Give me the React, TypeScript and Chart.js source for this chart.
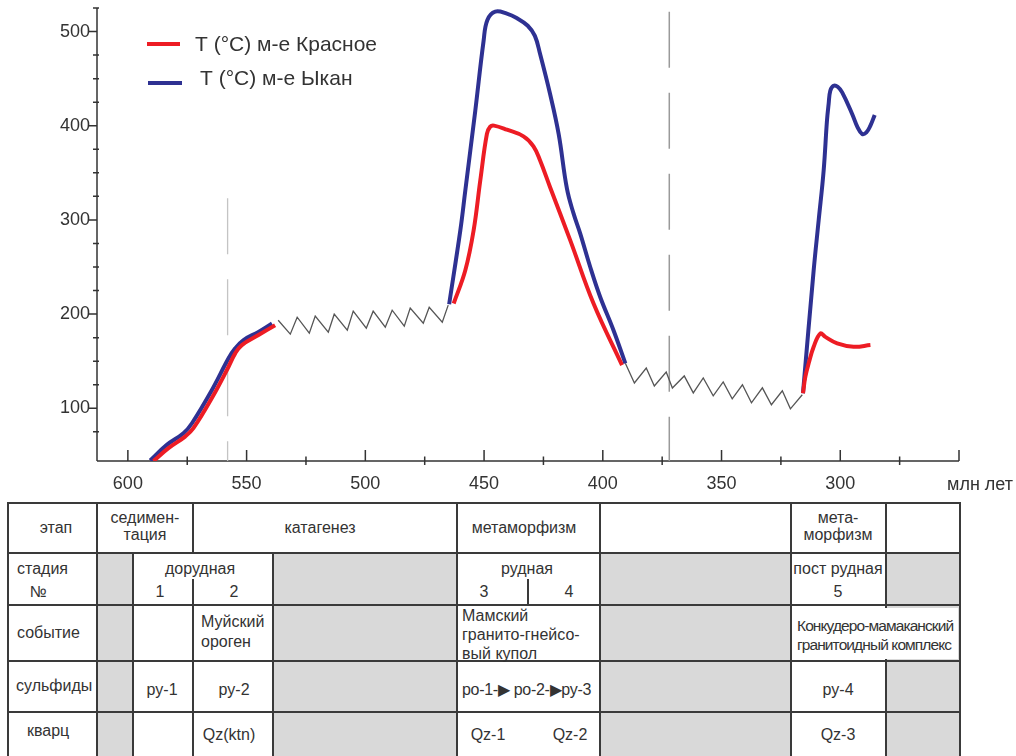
import React, { useEffect, useRef } from 'react';
import { Chart, registerables } from 'chart.js';

Chart.register(...registerables);

const FONT = '"Liberation Sans", Arial, Helvetica, sans-serif';
const INK = '#333333';
const RED = '#ed1c24';
const BLUE = '#2e3192';
const ZIG = '#555555';

const seriesLabels = ['T (°C) м-е Красное', 'T (°C) м-е Ыкан'];
const xAxisUnit = 'млн лет';

// [age, Ma ; T, °C]
const krasnoe1: number[][] = [
  [589.2, 44], [582.9, 57.6], [575.9, 69.9], [572.4, 78.8], [563.9, 114.1],
  [557.6, 144.1], [554.8, 158.3], [552.0, 167.1], [545.0, 177.7], [538.0, 188.2],
];
const ykan1: number[][] = [
  [590.6, 44.5], [583.6, 61.1], [576.6, 73.5], [573.0, 84.1], [564.6, 119.4],
  [557.6, 153.0], [554.8, 163.6], [551.3, 172.4], [545.0, 181.1], [539.3, 190.0],
];
const katagenZigzag: number[][] = [
  [536.7, 193.5], [531.6, 178.7], [528.7, 196.7], [523.6, 179.8], [521.1, 197.8],
  [515.6, 180.8], [513.1, 199.9], [507.6, 182.9], [505.1, 203.1], [499.6, 185.0],
  [496.7, 203.1], [491.6, 186.1], [488.7, 204.1], [483.6, 187.2], [481.1, 206.3],
  [475.6, 190.3], [473.1, 207.3], [467.6, 191.4], [465.1, 209.5],
];
const krasnoe2: number[][] = [
  [462.8, 211.2], [457.9, 246.5], [454.4, 288.9], [451.6, 341.9], [448.8, 391.3],
  [447.4, 399.0], [445.8, 400.1], [440.4, 395.8], [433.4, 388.7], [429.2, 378.1],
  [426.4, 363.0], [422.2, 334.7], [413.7, 278.3], [403.9, 211.2], [391.9, 145.8],
];
const ykan2: number[][] = [
  [464.7, 210.5], [460.0, 288.9], [457.9, 331.3], [453.7, 416.0], [450.2, 490.1],
  [448.6, 512.3], [445.3, 521.2], [440.4, 519.0], [436.1, 514.1], [431.6, 506.2],
  [428.6, 495.4], [426.4, 476.1], [422.2, 433.7], [418.6, 391.3], [415.1, 333.1],
  [412.3, 306.6], [409.5, 285.4], [405.3, 250.0], [401.1, 218.2], [395.5, 182.9],
  [390.5, 147.7],
];
const metaZigzag: number[][] = [
  [390.5, 147.7], [386.7, 126.8], [381.7, 142.7], [378.3, 123.6], [373.3, 138.5],
  [370.7, 121.5], [365.7, 134.3], [361.9, 116.3], [357.7, 132.2], [353.5, 113.2],
  [349.3, 128.0], [345.5, 110.0], [341.2, 124.9], [337.4, 105.8], [332.8, 121.7],
  [329.0, 103.7], [324.4, 118.5], [321.0, 99.4], [316.0, 114.3],
];
const krasnoe3: number[][] = [
  [315.7, 115.9], [314.7, 133.5], [313.3, 147.7], [311.2, 165.3], [308.4, 179.4],
  [306.3, 175.8], [301.3, 168.9], [294.4, 165.3], [287.3, 167.1],
];
const ykan3: number[][] = [
  [315.7, 115.9], [311.2, 246.5], [309.1, 299.5], [307.0, 352.4], [305.6, 405.4],
  [304.9, 423.1], [304.2, 437.2], [302.8, 442.5], [301.1, 441.4], [299.2, 435.4],
  [295.0, 412.5], [292.7, 398.3], [290.8, 391.3], [289.0, 393.0], [287.3, 400.1],
  [285.5, 411.4],
];
// dashed boundaries: [age, T] top to bottom
const boundary1: number[][] = [[558, 323], [558, 44]];
const boundary2: number[][] = [[372, 521], [372, 44]];

const xMajorTicks = [600, 550, 500, 450, 400, 350, 300, 250];
const xMinorTicks = [575, 525, 475, 425, 375, 325, 275];
const yMajorTicks = [100, 200, 300, 400, 500];
const yMinorTicks = [75, 125, 150, 175, 225, 250, 275, 325, 350, 375, 425, 450, 475, 525];

// table content
const rowLabels = ['этап', 'стадия', 'событие', 'сульфиды', 'кварц'];
const etapNames = ['седимен-', 'тация', 'катагенез', 'метаморфизм', 'мета-', 'морфизм'];
const stageNames = ['дорудная', 'рудная', 'пост рудная'];
const stageNumbers = ['1', '2', '3', '4', '5'];
const eventNames = ['Муйский', 'ороген', 'Мамский', 'гранито-гнейсо-', 'вый купол', 'Конкудеро-мамаканский', 'гранитоидный комплекс'];
const sulfideNames = ['py-1', 'py-2', 'po-1-▶ po-2-▶py-3', 'py-4'];
const quartzNames = ['Qz(ktn)', 'Qz-1', 'Qz-2', 'Qz-3'];

const toXY = (pts: number[][]) => pts.map(([a, t]) => ({ x: a, y: t }));

const axesPlugin = {
  id: 'axesDraw',
  beforeDatasetsDraw(chart: any) {
    const { ctx, chartArea, scales } = chart;
    const xs = scales.x;
    const ys = scales.y;
    const L = chartArea.left;
    const B = chartArea.bottom;
    ctx.save();
    ctx.strokeStyle = INK;
    ctx.lineWidth = 1.5;
    ctx.beginPath();
    ctx.moveTo(L, chartArea.top);
    ctx.lineTo(L, B);
    ctx.moveTo(L, B);
    ctx.lineTo(chartArea.right, B);
    xMajorTicks.forEach((v) => {
      const px = xs.getPixelForValue(v);
      ctx.moveTo(px, B - 11);
      ctx.lineTo(px, B);
    });
    xMinorTicks.forEach((v) => {
      const px = xs.getPixelForValue(v);
      ctx.moveTo(px, B - 4.5);
      ctx.lineTo(px, B + 4);
    });
    yMajorTicks.forEach((v) => {
      const py = ys.getPixelForValue(v);
      ctx.moveTo(L - 9, py);
      ctx.lineTo(L, py);
    });
    yMinorTicks.forEach((v) => {
      const py = ys.getPixelForValue(v);
      ctx.moveTo(L - 4, py);
      ctx.lineTo(L + 2, py);
    });
    ctx.stroke();
    ctx.restore();
  },
  afterDraw(chart: any) {
    const { ctx } = chart;
    ctx.save();
    ctx.fillStyle = INK;
    ctx.font = `18px ${FONT}`;
    ctx.textAlign = 'left';
    ctx.textBaseline = 'middle';
    ctx.fillText(xAxisUnit, 947, 485);

    const items = [
      { label: seriesLabels[0], color: RED, x1: 147, x2: 180, ly: 44, tx: 195, ty: 45 },
      { label: seriesLabels[1], color: BLUE, x1: 148, x2: 182, ly: 83, tx: 200, ty: 79 },
    ];
    items.forEach((it) => {
      ctx.strokeStyle = it.color;
      ctx.lineWidth = 4;
      ctx.beginPath();
      ctx.moveTo(it.x1, it.ly);
      ctx.lineTo(it.x2, it.ly);
      ctx.stroke();
      ctx.fillStyle = INK;
      ctx.font = `21px ${FONT}`;
      ctx.fillText(it.label, it.tx, it.ty);
    });
    ctx.restore();
  },
};

function TemperatureChart() {
  const ref = useRef<HTMLCanvasElement | null>(null);
  useEffect(() => {
    if (!ref.current) return;
    const curve = (pts: number[][], color: string, order: number, label: string) => ({
      label,
      data: toXY(pts),
      borderColor: color,
      borderWidth: 4,
      borderJoinStyle: 'round',
      pointRadius: 0,
      fill: false,
      tension: 0.4,
      order,
    });
    const thin = (pts: number[][], color: string, width: number, dash: number[], order: number) => ({
      data: toXY(pts),
      borderColor: color,
      borderWidth: width,
      borderDash: dash,
      pointRadius: 0,
      fill: false,
      tension: 0,
      order,
    });
    const chart = new Chart(ref.current, {
      type: 'line',
      data: {
        datasets: [
          curve(krasnoe1, RED, 1, seriesLabels[0]),
          curve(krasnoe2, RED, 1, seriesLabels[0]),
          curve(krasnoe3, RED, 1, seriesLabels[0]),
          curve(ykan1, BLUE, 2, seriesLabels[1]),
          curve(ykan2, BLUE, 2, seriesLabels[1]),
          curve(ykan3, BLUE, 2, seriesLabels[1]),
          thin(katagenZigzag, ZIG, 1.3, [], 3),
          thin(metaZigzag, ZIG, 1.3, [], 3),
          thin(boundary1, '#c4c4c4', 1.3, [56, 25], 4),
          thin(boundary2, '#9a9a9a', 1.5, [56, 25], 4),
        ] as any,
      },
      options: {
        animation: false,
        responsive: false,
        devicePixelRatio: 1,
        events: [],
        layout: { padding: { left: 0, right: 57, top: 8, bottom: 0 } },
        plugins: { legend: { display: false }, tooltip: { enabled: false } },
        scales: {
          x: {
            type: 'linear',
            reverse: true,
            min: 250,
            max: 613,
            grid: { display: false, drawTicks: false },
            border: { display: false },
            afterFit: (s: any) => {
              s.height = 39;
              s.paddingLeft = 0;
              s.paddingRight = 0;
            },
            ticks: {
              stepSize: 50,
              includeBounds: false,
              autoSkip: false,
              maxRotation: 0,
              padding: 12,
              color: INK,
              font: { family: FONT, size: 18 },
              callback: (v: any) => (xMajorTicks.includes(v) && v !== 250 ? String(v) : ''),
            },
          },
          y: {
            type: 'linear',
            min: 44,
            max: 525,
            grid: { display: false, drawTicks: false },
            border: { display: false },
            afterFit: (s: any) => {
              s.width = 97;
              s.paddingTop = 0;
              s.paddingBottom = 0;
            },
            ticks: {
              stepSize: 100,
              includeBounds: false,
              autoSkip: false,
              padding: 7,
              color: INK,
              font: { family: FONT, size: 18 },
              callback: (v: any) => (yMajorTicks.includes(v) ? String(v) : ''),
            },
          },
        },
      } as any,
      plugins: [axesPlugin],
    });
    return () => chart.destroy();
  }, []);
  return (
    <canvas
      ref={ref}
      width={1016}
      height={500}
      style={{ position: 'absolute', left: 0, top: 0, width: 1016, height: 500 }}
    />
  );
}

const COLS = [8, 97, 133, 193, 273, 457, 600, 791, 886, 960];
const ROWS = [503, 553, 605, 661, 712, 770];
const LW = 2;
const LINE_COLOR = '#3a3a3a';
const GRAY = '#d9d9d9';

function Txt(props: { t: string; x: number; y: number; align?: 'center' | 'left'; size?: number; extra?: any }) {
  const { t, x, y, align = 'center', size = 16, extra } = props;
  const base: any = {
    position: 'absolute',
    top: y - 11,
    height: 22,
    lineHeight: '22px',
    fontSize: size,
    color: INK,
    whiteSpace: 'nowrap',
    fontFamily: FONT,
  };
  if (align === 'center') {
    return <div style={{ ...base, left: x - 150, width: 300, textAlign: 'center', ...extra }}>{t}</div>;
  }
  return <div style={{ ...base, left: x, ...extra }}>{t}</div>;
}

function StageTable() {
  const rects: any[] = [];
  const grayCols = [[1, 2], [4, 5], [6, 7], [8, 9]];
  for (let r = 1; r <= 4; r++) {
    grayCols.forEach(([a, b], i) => {
      rects.push(
        <div key={`g${r}-${i}`} style={{ position: 'absolute', left: COLS[a], top: ROWS[r], width: COLS[b] - COLS[a], height: ROWS[r + 1] - ROWS[r], background: GRAY }} />
      );
    });
  }
  const lines: any[] = [];
  const hl = (y: number, x1: number, x2: number, k: string) =>
    lines.push(<div key={k} style={{ position: 'absolute', left: x1 - 1, top: y - 1, width: x2 - x1 + LW, height: LW, background: LINE_COLOR }} />);
  const vl = (x: number, y1: number, y2: number, k: string) =>
    lines.push(<div key={k} style={{ position: 'absolute', left: x - 1, top: y1 - 1, width: LW, height: y2 - y1 + LW, background: LINE_COLOR }} />);
  for (let r = 0; r <= 4; r++) hl(ROWS[r], COLS[0], COLS[9], `h${r}`);
  [0, 1, 3, 5, 6, 7, 8, 9].forEach((c) => vl(COLS[c], ROWS[0], ROWS[1], `v0-${c}`));
  [0, 1, 2, 4, 5, 6, 7, 8, 9].forEach((c) => vl(COLS[c], ROWS[1], ROWS[5], `v1-${c}`));
  vl(COLS[3], ROWS[2], ROWS[5], 'v3');
  vl(COLS[3], 580, ROWS[2], 'v3s');
  vl(528, 580, ROWS[2], 'v528');

  return (
    <div>
      {rects}
      {lines}
      <div style={{ position: 'absolute', left: 792, top: 608, width: 166, height: 51, background: '#fff' }} />
      <Txt t={rowLabels[0]} x={56} y={528} />
      <Txt t={etapNames[0]} x={145} y={518} />
      <Txt t={etapNames[1]} x={145} y={535} />
      <Txt t={etapNames[2]} x={320} y={528} />
      <Txt t={etapNames[3]} x={524} y={528} />
      <Txt t={etapNames[4]} x={838} y={518} />
      <Txt t={etapNames[5]} x={838} y={535} />

      <Txt t={rowLabels[1]} x={17} y={569} align="left" />
      <Txt t="№" x={38} y={592} />
      <Txt t={stageNames[0]} x={200} y={569} />
      <Txt t={stageNumbers[0]} x={160} y={592} />
      <Txt t={stageNumbers[1]} x={234} y={592} />
      <Txt t={stageNames[1]} x={527} y={569} />
      <Txt t={stageNumbers[2]} x={484} y={592} />
      <Txt t={stageNumbers[3]} x={569} y={592} />
      <Txt t={stageNames[2]} x={838} y={569} />
      <Txt t={stageNumbers[4]} x={838} y={592} />

      <Txt t={rowLabels[2]} x={17} y={633} align="left" />
      <Txt t={eventNames[0]} x={201} y={622} align="left" />
      <Txt t={eventNames[1]} x={201} y={642} align="left" />
      <Txt t={eventNames[2]} x={462} y={616} align="left" />
      <Txt t={eventNames[3]} x={462} y={635} align="left" />
      <Txt t={eventNames[4]} x={462} y={654} align="left" />
      <Txt t={eventNames[5]} x={797} y={626} align="left" size={15.5} extra={{ letterSpacing: '-0.9px' }} />
      <Txt t={eventNames[6]} x={797} y={645} align="left" size={15.5} extra={{ letterSpacing: '-0.9px' }} />

      <Txt t={rowLabels[3]} x={16} y={686} align="left" />
      <Txt t={sulfideNames[0]} x={162} y={690} />
      <Txt t={sulfideNames[1]} x={234} y={690} />
      <Txt t={sulfideNames[2]} x={462} y={690} align="left" extra={{ letterSpacing: '-0.3px' }} />
      <Txt t={sulfideNames[3]} x={838} y={690} />

      <Txt t={rowLabels[4]} x={27} y={731} align="left" />
      <Txt t={quartzNames[0]} x={229} y={735} />
      <Txt t={quartzNames[1]} x={488} y={735} />
      <Txt t={quartzNames[2]} x={570} y={735} />
      <Txt t={quartzNames[3]} x={838} y={735} />
    </div>
  );
}

export default function App() {
  return (
    <div
      style={{
        position: 'absolute',
        left: 0,
        top: 0,
        width: 1016,
        height: 756,
        overflow: 'hidden',
        background: '#ffffff',
        fontFamily: FONT,
      }}
    >
      <TemperatureChart />
      <StageTable />
    </div>
  );
}
